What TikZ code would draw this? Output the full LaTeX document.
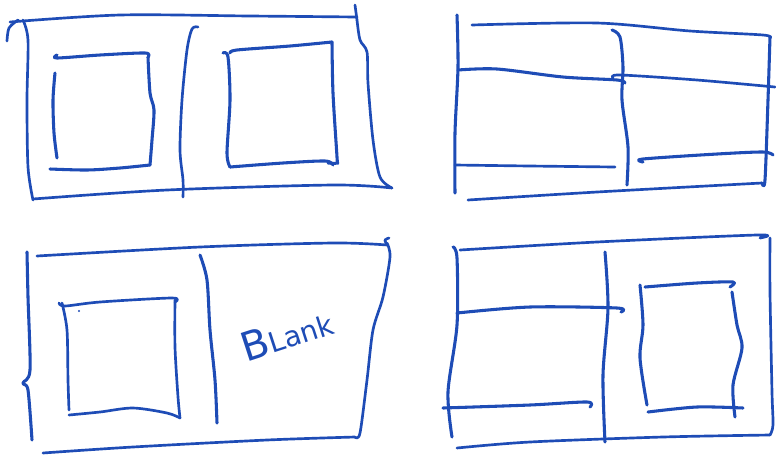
\documentclass[tikz,border=0pt]{standalone}
\usepackage{fontspec}
\newfontfamily\handfont{DejaVu Sans}
\definecolor{inkblue}{RGB}{30,76,182}
\begin{document}
\begin{tikzpicture}[x=0.75pt,y=-0.75pt,
  ink/.style={draw=inkblue, line width=2.3pt, line cap=round, line join=round},
  inkthin/.style={draw=inkblue, line width=2.0pt, line cap=round, line join=round}]
\useasboundingbox (0,0) rectangle (776,455);
\fill[white] (0,0) rectangle (776,455);

% ---------- Panel 1 (top-left) ----------
\draw[inkthin] plot[smooth] coordinates {(7,41) (9,28) (18,20)};
\draw[inkthin] plot[smooth] coordinates {(10,22) (120,15) (250,16) (357,17)};
\draw[inkthin] (355,5) -- (357,20);
\draw[inkthin] plot[smooth] coordinates {(23,20) (28,40) (27,100) (28,167) (33,200)};
\draw[inkthin] plot[smooth] coordinates {(357,20) (360,40) (367,52) (368,83) (373,140) (380,177) (392,188)};
\draw[inkthin] plot[smooth] coordinates {(33,199) (167,190) (333,185) (392,188)};
\draw[inkthin] plot[smooth] coordinates {(198,27) (192,29) (187,50) (182,100) (180,150) (183,180) (183,197)};
% left inner box
\draw[ink] plot[smooth] coordinates {(57,55) (57,58) (100,55) (145,53) (148,57)};
\draw[ink] plot[smooth] coordinates {(148,57) (150,93) (154,110) (152,140) (150,165)};
\draw[ink] plot[smooth] coordinates {(50,169) (87,170) (120,168) (150,165)};
\draw[ink] plot[smooth] coordinates {(55,73) (53,100) (54,133) (57,158)};
% right inner box
\draw[ink] plot[smooth] coordinates {(223,53) (228,57) (230,100) (227,153) (230,167)};
\draw[ink] plot[smooth] coordinates {(230,53) (237,50) (290,46) (332,42)};
\draw[ink] plot[smooth] coordinates {(332,42) (333,93) (337,157) (337,163) (328,163)};
\draw[ink] plot[smooth] coordinates {(230,167) (283,163) (325,161) (333,165)};

% ---------- Panel 2 (top-right) ----------
\draw[ink] plot[smooth] coordinates {(457,15) (458,67) (455,133) (455,193)};
\draw[inkthin] plot[smooth] coordinates {(472,25) (597,23) (690,31) (763,35) (770,38)};
\draw[ink] plot[smooth] coordinates {(770,37) (768,100) (765,180) (762,183)};
\draw[inkthin] plot[smooth] coordinates {(468,200) (597,192) (762,183)};
\draw[ink] plot[smooth] coordinates {(612,30) (620,37) (623,67) (622,100) (628,147) (627,185)};
\draw[ink] plot[smooth] coordinates {(458,70) (497,69) (563,77) (617,80) (625,83)};
\draw[inkthin] plot[smooth] coordinates {(613,78) (620,75) (697,80) (775,87)};
\draw[inkthin] plot[smooth] coordinates {(455,165) (530,166) (615,167)};
\draw[ink] plot[smooth] coordinates {(643,162) (643,159) (717,154) (763,152) (773,155)};

% ---------- Panel 3 (bottom-left) ----------
\draw[ink] plot[smooth] coordinates {(27,252) (28,297) (30,370) (23,383) (28,390) (32,440)};
\draw[inkthin] plot[smooth] coordinates {(37,256) (200,247) (333,243) (387,245)};
\draw[inkthin] plot[smooth] coordinates {(387,245) (385,240) (389,238)};
\draw[inkthin] plot[smooth] coordinates {(387,243) (390,257) (383,297) (373,330) (367,380) (360,433) (355,437)};
\draw[inkthin] plot[smooth] coordinates {(43,453) (133,447) (267,440) (355,437)};
\draw[ink] plot[smooth] coordinates {(200,255) (207,280) (210,330) (215,380) (217,423)};
% inner box
\draw[inkthin] plot[smooth] coordinates {(59,303) (65,306) (100,302) (172,298) (175,302)};
\draw[inkthin] plot[smooth] coordinates {(62,303) (67,330) (68,380) (69,410)};
\draw[inkthin] plot[smooth] coordinates {(175,300) (175,347) (178,397) (180,418)};
\draw[inkthin] plot[smooth] coordinates {(69,415) (100,412) (133,408) (167,413) (180,418)};
\fill[inkblue] (79,311) circle (1.2);
\node[text=inkblue, rotate=18, inner sep=0pt] (blank) at (287,334)
  {\handfont\fontsize{30}{30}\selectfont B\fontsize{21}{21}\selectfont Lank};

% ---------- Panel 4 (bottom-right) ----------
\draw[ink] plot[smooth] coordinates {(453,247) (457,258) (457,325) (448,392) (452,437)};
\draw[inkthin] plot[smooth] coordinates {(460,250) (597,242) (757,235) (760,238)};
\draw[inkthin] plot[smooth] coordinates {(770,238) (770,292) (772,392) (773,425) (770,435)};
\draw[inkthin] plot[smooth] coordinates {(457,448) (530,442) (663,437) (770,435)};
\draw[ink] plot[smooth] coordinates {(605,252) (608,308) (603,375) (605,442)};
\draw[ink] plot[smooth] coordinates {(457,313) (530,307) (617,308) (621,312)};
\draw[ink] plot[smooth] coordinates {(443,408) (530,405) (587,402) (590,407)};
% inner box
\draw[ink] plot[smooth] coordinates {(645,287) (697,283) (733,282) (730,287)};
\draw[ink] plot[smooth] coordinates {(640,285) (643,325) (640,358) (647,405)};
\draw[ink] plot[smooth] coordinates {(732,292) (737,325) (742,348) (733,385) (735,417)};
\draw[ink] plot[smooth] coordinates {(648,412) (697,407) (743,408)};
\end{tikzpicture}
\end{document}
